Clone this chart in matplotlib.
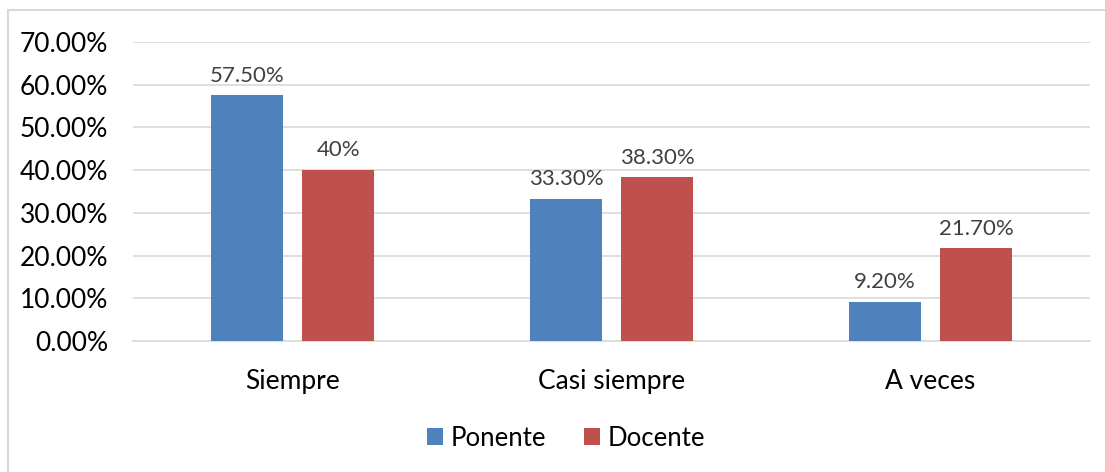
import matplotlib
matplotlib.use("Agg")
import matplotlib.pyplot as plt
import numpy as np
from matplotlib.patches import Rectangle
from matplotlib.ticker import FuncFormatter

categories = ["Siempre", "Casi siempre", "A veces"]
ponente = [57.5, 33.3, 9.2]
docente = [40.0, 38.3, 21.7]
ponente_labels = ["57.50%", "33.30%", "9.20%"]
docente_labels = ["40%", "38.30%", "21.70%"]

plt.rcParams['font.family'] = ['Lato', 'DejaVu Sans']

W, H = 1105, 472
fig = plt.figure(figsize=(W/100, H/100), dpi=100)
fig.patch.set_facecolor('white')

# outer chart border
fig.add_artist(Rectangle((8/W, -0.05), (W+20)/W, 1 - 10/H + 0.05, transform=fig.transFigure,
                         fill=False, edgecolor='#D9D9D9', linewidth=1.5))

ax = fig.add_axes([133/W, 1-341/H, (1090-133)/W, (341-42)/H])
x = np.arange(len(categories))
bw = 0.226
off = 0.143
blue = '#4F81BD'
red = '#C0504D'
b1 = ax.bar(x - off, ponente, bw, color=blue, label='Ponente', zorder=3)
b2 = ax.bar(x + off, docente, bw, color=red, label='Docente', zorder=3)

for rect, lab in zip(b1, ponente_labels):
    ax.annotate(lab, (rect.get_x() + rect.get_width()/2, rect.get_height()),
                xytext=(0, 7), textcoords='offset points', ha='center', va='bottom',
                fontsize=16, color='#404040')
for rect, lab in zip(b2, docente_labels):
    ax.annotate(lab, (rect.get_x() + rect.get_width()/2, rect.get_height()),
                xytext=(0, 7), textcoords='offset points', ha='center', va='bottom',
                fontsize=16, color='#404040')

ax.set_xlim(-0.5, 2.5)
ax.set_ylim(0, 70)
ax.set_yticks(np.arange(0, 71, 10))
ax.yaxis.set_major_formatter(FuncFormatter(lambda v, p: f"{v:.2f}%"))
ax.set_xticks(x)
ax.set_xticklabels(categories)
ax.tick_params(axis='y', length=0, labelsize=19, pad=18, labelcolor='black')
ax.tick_params(axis='x', length=0, labelsize=19, pad=20, labelcolor='black')
ax.grid(axis='y', color='#D9D9D9', linewidth=1.2, zorder=0)
for s in ['top', 'right', 'left']:
    ax.spines[s].set_visible(False)
ax.spines['bottom'].set_color('#D9D9D9')
ax.spines['bottom'].set_linewidth(1.2)

fig.legend(handles=[b1, b2], labels=['Ponente', 'Docente'], loc='center',
           bbox_to_anchor=(566/W, 1-438/H), ncol=2, frameon=False, fontsize=18.5,
           handlelength=0.6, handleheight=0.6, handletextpad=0.3, columnspacing=1.5)

fig.savefig('out.png', dpi=100)
